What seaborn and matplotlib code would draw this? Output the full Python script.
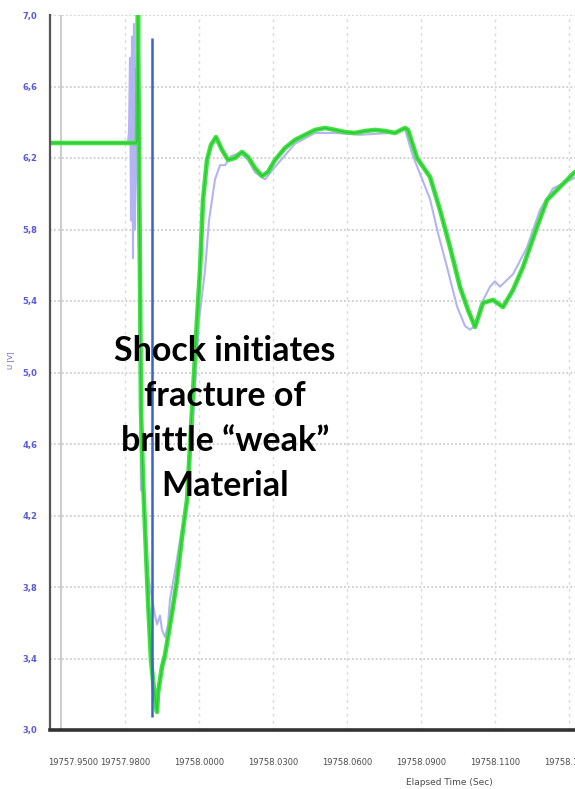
import numpy as np
import pandas as pd
import matplotlib
matplotlib.use("Agg")
import matplotlib.pyplot as plt
import seaborn as sns

# Start of the time window (s); samples are given in ms after this instant
T0 = 19757.98

# Channel A (green): time offset [ms], signal value
green_ms = [-26.25, 3.85, 4.2, 4.55, 4.9, 5.6, 6.3, 8.05, 9.1, 10.15, 11.2, 11.55,
            12.95, 14.0, 14.7, 16.45, 18.2, 19.95, 21.7, 23.45, 25.2, 26.25, 27.3,
            28.7, 30.1, 31.85, 33.95, 36.05, 38.5, 40.95, 43.05, 45.5, 47.95, 50.05,
            52.5, 56.0, 59.5, 63.0, 66.5, 70.0, 73.5, 77.0, 80.5, 84.0, 87.5, 91.0,
            94.5, 98.0, 99.05, 102.2, 106.75, 110.25, 113.75, 117.25, 120.05, 122.5,
            125.3, 128.8, 132.3, 135.8, 139.3, 144.2, 147.7, 152.25, 157.5]
green_val = [6.284, 6.284, 6.301, 7.000, 6.256, 4.790, 4.399, 3.727, 3.392, 3.224,
             3.101, 3.207, 3.353, 3.420, 3.487, 3.655, 3.839, 4.080, 4.287, 4.790,
             5.294, 5.573, 5.965, 6.189, 6.273, 6.317, 6.245, 6.189, 6.200, 6.234,
             6.206, 6.144, 6.099, 6.122, 6.189, 6.256, 6.301, 6.329, 6.357, 6.368,
             6.357, 6.345, 6.340, 6.351, 6.357, 6.351, 6.340, 6.368, 6.357, 6.200,
             6.094, 5.909, 5.702, 5.478, 5.350, 5.255, 5.389, 5.406, 5.366, 5.462,
             5.590, 5.814, 5.965, 6.038, 6.122]

# Channel B (lavender): time offset [ms], signal value
blue_ms = [-26.25, 1.05, 1.4, 1.75, 2.1, 2.45, 2.8, 3.15, 3.5, 3.85, 4.2, 4.9, 5.25,
           5.6, 6.3, 8.05, 10.5, 11.2, 12.25, 12.95, 14.0, 15.05, 15.75, 17.5, 19.25,
           21.7, 23.45, 25.9, 28.0, 29.4, 31.5, 33.25, 35.0, 37.1, 40.25, 43.05, 45.5,
           49.0, 52.5, 59.5, 66.5, 73.5, 82.25, 92.75, 98.0, 100.8, 104.3, 106.75,
           109.55, 112.7, 116.2, 119.0, 120.75, 122.5, 124.25, 127.75, 129.5, 131.25,
           135.8, 140.7, 145.25, 149.8, 157.5]
blue_val = [6.284, 6.284, 6.35, 6.76, 5.85, 6.88, 5.64, 6.95, 5.80, 6.70, 6.20, 5.65,
            4.96, 4.34, 4.40, 3.87, 3.64, 3.59, 3.64, 3.56, 3.52, 3.59, 3.73, 3.89,
            4.06, 4.29, 4.62, 5.29, 5.57, 5.85, 6.08, 6.16, 6.16, 6.21, 6.23, 6.19,
            6.12, 6.08, 6.15, 6.28, 6.34, 6.34, 6.33, 6.34, 6.36, 6.21, 6.07, 5.97,
            5.78, 5.59, 5.37, 5.26, 5.24, 5.26, 5.37, 5.48, 5.51, 5.48, 5.55, 5.70,
            5.91, 6.03, 6.09]

# Axis ticks
y_ticks = [3.0, 3.4, 3.8, 4.2, 4.6, 5.0, 5.4, 5.8, 6.2, 6.6, 7.0]
x_tick_ms = [-18.2, 0.0, 25.9, 51.8, 77.7, 103.6, 129.5, 155.4]
x_tick_labels = ["19757.9500", "19757.9800", "19758.0000", "19758.0300",
                 "19758.0600", "19758.0900", "19758.1100", "19758.1400"]
x_grid_ms = [0.0, 25.9, 51.8, 77.7, 103.6, 129.5, 155.4]

# Event marker and note
shock_ms = 9.45
note = "Shock initiates\nfracture of\nbrittle \u201cweak\u201d\nMaterial"

df_g = pd.DataFrame({"t": T0 + np.array(green_ms) / 1000.0, "v": green_val})
df_b = pd.DataFrame({"t": T0 + np.array(blue_ms) / 1000.0, "v": blue_val})

sns.set_theme(style="white")
W, H = 575, 789
fig = plt.figure(figsize=(W / 100, H / 100), dpi=100)
ax = fig.add_axes([50 / W, 59 / H, 1 - 50 / W, (730 - 15) / H])

# traces
sns.lineplot(data=df_b, x="t", y="v", ax=ax, color="#b4b4f4", lw=1.5,
             sort=False, estimator=None)
sns.lineplot(data=df_g, x="t", y="v", ax=ax, color="#3fe23f", lw=3.3,
             sort=False, estimator=None)
sns.lineplot(data=df_g, x="t", y="v", ax=ax, color="#1f9a45", lw=0.8, alpha=0.5,
             sort=False, estimator=None)

ax.set_xlim(T0 - 26.25 / 1000.0, T0 + 157.5 / 1000.0)
ax.set_ylim(3.0, 7.0)

# y axis: blue comma-decimal labels, dotted horizontal grid
ax.set_yticks(y_ticks)
ax.set_yticklabels([f"{v:.1f}".replace(".", ",") for v in y_ticks],
                   color="#5a5ad6", fontsize=6, fontweight="bold")
ax.tick_params(axis="y", length=0, pad=9)
for y in y_ticks[1:]:
    ax.axhline(y, color="#cdcdcd", lw=1.3, ls=(0, (1, 1.2)), zorder=0)

# x axis: dotted vertical grid with labels
ax.set_xticks([T0 + m / 1000.0 for m in x_tick_ms])
ax.set_xticklabels(x_tick_labels, color="#4a4a4a", fontsize=6,
                   fontfamily="Liberation Sans Narrow")
ax.tick_params(axis="x", length=0, pad=20)
for m in x_grid_ms:
    ax.axvline(T0 + m / 1000.0, color="#dadada", lw=1.0, ls=(0, (2, 3)), zorder=0)

ax.axvline(T0 - 22.4 / 1000.0, color="#c4c4c4", lw=1.2, zorder=1)

for side in ("top", "right"):
    ax.spines[side].set_visible(False)
ax.spines["left"].set_color("#555555")
ax.spines["left"].set_linewidth(1.6)
ax.spines["bottom"].set_color("#333333")
ax.spines["bottom"].set_linewidth(2.6)

ax.set_xlabel("Elapsed Time (Sec)", fontsize=6.5, color="#4a4a4a")
ax.xaxis.set_label_coords((449 - 50) / (W - 50), -(778 - 730) / (730 - 15))
ax.set_ylabel("U [V]", fontsize=5, color="#5a5ad6")
ax.yaxis.set_label_coords(-(50 - 14) / (W - 50), (730 - 360) / (730 - 15))

# shock marker line
ax.vlines(T0 + shock_ms / 1000.0, 3.07, 6.87, color="#3b63c8", lw=1.8, zorder=5)

fig.text(225 / W, 1 - 419 / H, note, ha="center", va="center",
         fontsize=24.5, fontweight="bold", fontfamily="Lato", color="black",
         linespacing=1.5)

fig.savefig("out.png", dpi=100)
